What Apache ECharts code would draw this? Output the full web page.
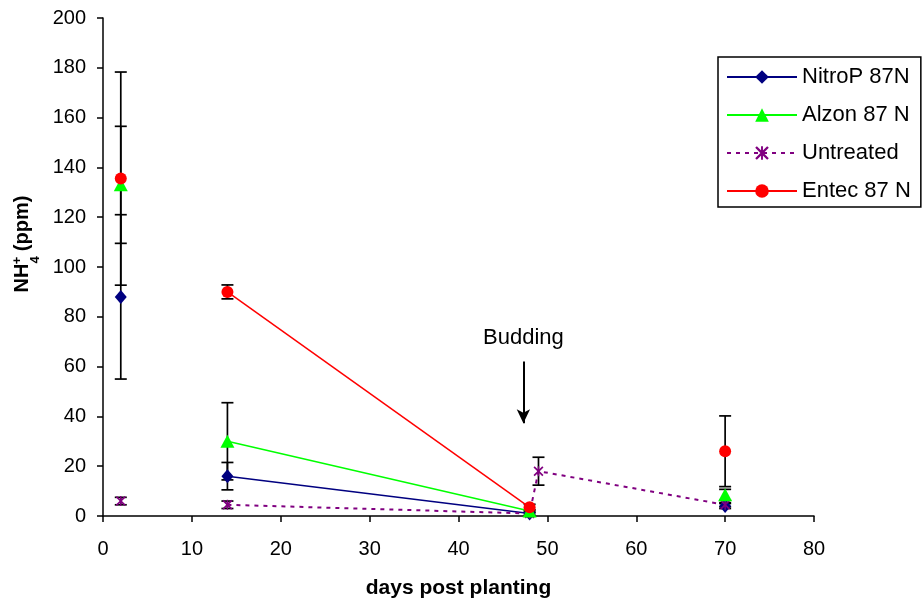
<!DOCTYPE html>
<html>
<head>
<meta charset="utf-8">
<script src="https://cdn.jsdelivr.net/npm/echarts@6/dist/echarts.min.js"></script>
<style>html,body{margin:0;padding:0;background:#fff}#c{width:924px;height:610px}</style>
</head>
<body>
<div id="c"></div>
<script>
// ---- data ----
const xTicks = [0, 10, 20, 30, 40, 50, 60, 70, 80];
const yTicks = [0, 20, 40, 60, 80, 100, 120, 140, 160, 180, 200];

const nitroDays = [2, 14, 48, 70];
const nitroVals = [88, 16, 1, 4];
const nitroErr = [33, 5.5, 0.6, 1];
const nitroJoin = [false, true, false];

const alzonDays = [2, 14, 48, 70];
const alzonVals = [133, 30, 2, 8.5];
const alzonErr = [23.5, 15.5, 0.6, 2.2];
const alzonJoin = [false, true, false];

const untreatedDays = [2, 14, 48, 49, 70];
const untreatedVals = [6, 4.5, 1, 18, 4.5];
const untreatedErr = [1.5, 1.5, 0, 5.6, 0.8];
const untreatedJoin = [false, true, true, true];

const entecDays = [2, 14, 48, 70];
const entecVals = [135.5, 90, 3.5, 26];
const entecErr = [42.8, 2.8, 1.2, 14.2];
const entecJoin = [false, true, false];

const seriesNames = ['NitroP 87N', 'Alzon 87 N', 'Untreated', 'Entec 87 N'];
const budding = { label: 'Budding', x: 47.3, from: 62, to: 37.2 };

// ---- build ----
function lineData(days, vals, join) {
  const out = [];
  for (let i = 0; i < days.length; i++) {
    out.push([days[i], vals[i]]);
    if (i < days.length - 1 && !join[i]) out.push([days[i], '-']);
  }
  return out;
}
function errData(days, vals, errs) {
  return days.map((d, i) => [d, vals[i] - errs[i], vals[i] + errs[i]]);
}
const allErr = [].concat(
  errData(nitroDays, nitroVals, nitroErr),
  errData(alzonDays, alzonVals, alzonErr),
  errData(untreatedDays, untreatedVals, untreatedErr),
  errData(entecDays, entecVals, entecErr)
).filter(e => e[2] - e[1] > 0.01);

const starPath = 'path://M0,1.2 L1.2,0 L5,3.8 L8.8,0 L10,1.2 L6.2,5 L10,8.8 L8.8,10 L5,6.2 L1.2,10 L0,8.8 L3.8,5 Z M4.3,0 L5.7,0 L5.7,10 L4.3,10 Z';

const chart = echarts.init(document.getElementById('c'), null, { renderer: 'canvas' });
const font = 'Liberation Sans, Arial, sans-serif';

chart.setOption({
  animation: false,
  textStyle: { fontFamily: font },
  grid: { left: 103, right: 110, top: 18, bottom: 94 },
  legend: {
    data: seriesNames,
    orient: 'vertical',
    left: 718,
    top: 57,
    padding: [9, 10, 5, 8],
    itemGap: 16,
    itemWidth: 70,
    itemHeight: 17,
    borderColor: '#000',
    borderWidth: 1.5,
    backgroundColor: '#fff',
    textStyle: { fontFamily: font, fontSize: 22, color: '#000', lineHeight: 22 }
  },
  xAxis: {
    type: 'value', min: 0, max: 80, interval: 10,
    name: 'days post planting', nameLocation: 'middle', nameGap: 62,
    nameTextStyle: { fontFamily: font, fontSize: 21, fontWeight: 'bold', color: '#000' },
    axisLine: { show: true, onZero: false, lineStyle: { color: '#000', width: 1.5 } },
    axisTick: { show: true, inside: false, length: 6, lineStyle: { color: '#000', width: 1.5 } },
    axisLabel: { fontFamily: font, fontSize: 20, color: '#000', margin: 23,
      formatter: v => xTicks.includes(v) ? String(v) : '' },
    splitLine: { show: false }
  },
  yAxis: {
    type: 'value', min: 0, max: 200, interval: 20,
    name: '{b|NH}{s|4}{p|+}{b| (ppm)}', nameLocation: 'middle', nameGap: 66,
    nameRotate: 90,
    nameTextStyle: {
      padding: [0, 0, 0, 46],
      rich: {
        b: { fontFamily: font, fontSize: 20, fontWeight: 'bold', color: '#000' },
        s: { fontFamily: font, fontSize: 13, fontWeight: 'bold', color: '#000', verticalAlign: 'bottom', padding: [0, 0, -8, 0] },
        p: { fontFamily: font, fontSize: 13, fontWeight: 'bold', color: '#000', padding: [0, 0, 10, -8] }
      }
    },
    axisLine: { show: true, lineStyle: { color: '#000', width: 1.5 } },
    axisTick: { show: true, inside: false, length: 6, lineStyle: { color: '#000', width: 1.5 } },
    axisLabel: { fontFamily: font, fontSize: 20, color: '#000', margin: 17,
      formatter: v => yTicks.includes(v) ? String(v) : '' },
    splitLine: { show: false }
  },
  series: [
    {
      name: 'err', type: 'custom', z: 1, silent: true,
      data: allErr,
      encode: { x: 0, y: [1, 2] },
      renderItem: function (params, api) {
        const x = api.value(0);
        const lo = api.coord([x, api.value(1)]);
        const hi = api.coord([x, api.value(2)]);
        const w = 6;
        const st = { stroke: '#000', lineWidth: 1.7 };
        return { type: 'group', children: [
          { type: 'line', shape: { x1: lo[0], y1: lo[1], x2: hi[0], y2: hi[1] }, style: st },
          { type: 'line', shape: { x1: lo[0] - w, y1: lo[1], x2: lo[0] + w, y2: lo[1] }, style: st },
          { type: 'line', shape: { x1: hi[0] - w, y1: hi[1], x2: hi[0] + w, y2: hi[1] }, style: st }
        ]};
      }
    },
    {
      name: seriesNames[0], type: 'line', z: 3,
      data: lineData(nitroDays, nitroVals, nitroJoin), connectNulls: false,
      symbol: 'diamond', symbolSize: [12, 14], showAllSymbol: true,
      itemStyle: { color: '#000080' }, lineStyle: { color: '#000080', width: 1.5 }
    },
    {
      name: seriesNames[1], type: 'line', z: 4,
      data: lineData(alzonDays, alzonVals, alzonJoin), connectNulls: false,
      symbol: 'triangle', symbolSize: [14, 13], showAllSymbol: true,
      itemStyle: { color: '#00FF00' }, lineStyle: { color: '#00FF00', width: 1.5 }
    },
    {
      name: seriesNames[2], type: 'line', z: 3,
      data: lineData(untreatedDays, untreatedVals, untreatedJoin), connectNulls: false,
      symbol: starPath, symbolSize: 10, showAllSymbol: true,
      itemStyle: { color: '#800080' }, lineStyle: { color: '#800080', width: 2, type: [4, 5] }
    },
    {
      name: seriesNames[3], type: 'line', z: 5,
      data: lineData(entecDays, entecVals, entecJoin), connectNulls: false,
      symbol: 'circle', symbolSize: 12, showAllSymbol: true,
      itemStyle: { color: '#FF0000' }, lineStyle: { color: '#FF0000', width: 1.5 },
      markLine: {
        silent: true, symbol: ['none', 'arrow'], symbolSize: [10, 14],
        lineStyle: { color: '#000', width: 2, type: 'solid' },
        label: { show: true, position: 'start', formatter: budding.label, color: '#000',
          fontFamily: font, fontSize: 22, distance: 13 },
        data: [[{ coord: [budding.x, budding.from] }, { coord: [budding.x, budding.to] }]]
      }
    }
  ]
});
</script>
</body>
</html>
